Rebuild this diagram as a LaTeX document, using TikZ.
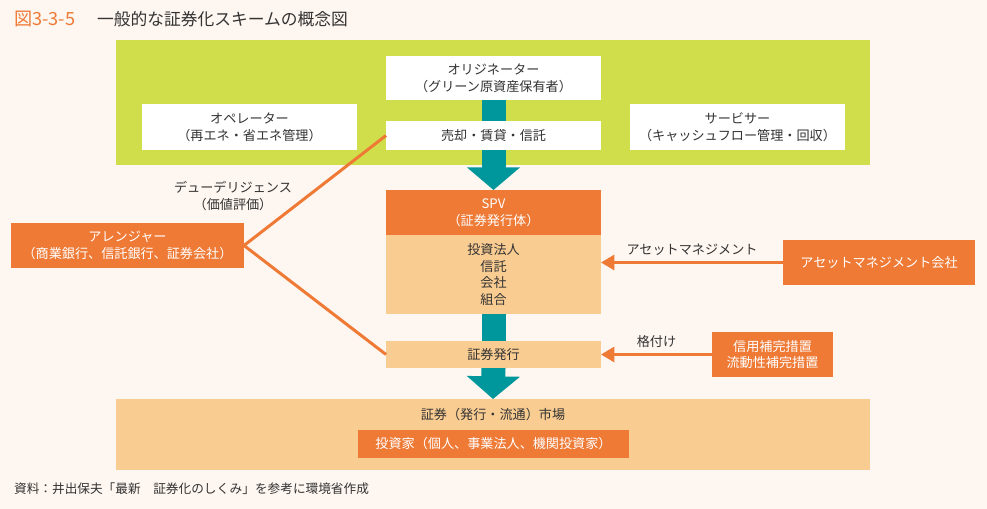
\documentclass[tikz,border=0pt]{standalone}
\usepackage{fontspec}
\setmainfont{Noto Sans CJK JP}
\usepackage{tikz}
\usetikzlibrary{arrows.meta, positioning}

\definecolor{pagebg}{HTML}{FEF6F0}
\definecolor{limegreen}{HTML}{D1DE4C}
\definecolor{deeporange}{HTML}{EE7A36}
\definecolor{paleorange}{HTML}{F9CC92}
\definecolor{tealblue}{HTML}{00979C}
\definecolor{textgray}{HTML}{333333}

\pgfdeclarelayer{back}
\pgfdeclarelayer{mid}
\pgfsetlayers{back,mid,main}

\begin{document}
\begin{tikzpicture}[
    x=0.03cm, y=-0.03cm,
    every node/.style={text=textgray, font=\fontsize{11.2}{14.3}\selectfont},
    whitebox/.style={rectangle, fill=white, inner sep=0pt, outer sep=0pt, align=center, minimum width=6.45cm},
    orangebox/.style={rectangle, fill=deeporange, text=white, inner sep=0pt, outer sep=0pt, align=center},
    palebox/.style={rectangle, fill=paleorange, inner sep=0pt, outer sep=0pt, align=center},
    flow/.style={tealblue, line width=0.72cm},
    flowarrow/.style={tealblue, line width=0.72cm, -{Triangle[width=1.56cm, length=0.68cm]}},
    feed/.style={deeporange, line width=0.09cm, -{Triangle[width=0.45cm, length=0.4cm]}},
    link/.style={deeporange, line width=0.09cm}
]
\useasboundingbox (0,0) rectangle (987,509);

% Green area and market band
\begin{pgfonlayer}{back}
\fill[pagebg] (0,0) rectangle (987,509);
\node[rectangle, fill=limegreen, minimum width=22.62cm, minimum height=3.75cm, inner sep=0pt] (green) at (493,102.5) {};
\node[palebox, minimum width=22.62cm, minimum height=2.13cm] (market) at (493,434.5) {};
\end{pgfonlayer}

% Title
\node[anchor=west, text=deeporange, font=\fontsize{15.5}{17}\selectfont] (fignum) at (10,19) {図3-3-5};
\node[anchor=west, font=\fontsize{14.3}{16}\selectfont] (title) at (93,19) {一般的な証券化スキームの概念図};

\node[whitebox, minimum height=1.32cm] (origin) at (493.5,78) {オリジネーター\\（グリーン原資産保有者）};
\node[whitebox, minimum height=0.87cm] (sale) at (493.5,135.5) {売却・賃貸・信託};
\node[whitebox, minimum height=1.38cm] (operator) at (249.5,127) {オペレーター\\（再エネ・省エネ管理）};
\node[whitebox, minimum height=1.38cm] (servicer) at (737.5,127) {サービサー\\（キャッシュフロー管理・回収）};

% SPV
\node[orangebox, minimum width=6.45cm, minimum height=1.35cm] (spv) at (493.5,212.5) {SPV\\（証券発行体）};
\node[palebox, minimum width=6.45cm, minimum height=2.37cm, font=\fontsize{11.2}{14.2}\selectfont] (spvbody) at (493.5,274.5) {投資法人\\信託\\会社\\組合};
\node[palebox, minimum width=6.45cm, minimum height=0.81cm] (issue) at (493.5,354.5) {証券発行};

% Market
\node (marketlabel) at (493,415) {証券（発行・流通）市場};
\node[orangebox, minimum width=8.13cm, minimum height=0.84cm] (investor) at (493.5,444) {投資家（個人、事業法人、機関投資家）};

% Side parties
\node[orangebox, minimum width=6.99cm, minimum height=1.35cm] (arranger) at (127.5,245.5) {アレンジャー\\（商業銀行、信託銀行、証券会社）};
\node[orangebox, minimum width=5.76cm, minimum height=1.35cm] (amc) at (879,262.5) {アセットマネジメント会社};
\node[orangebox, minimum width=3.63cm, minimum height=1.35cm] (credit) at (772.5,354.5) {信用補完措置\\流動性補完措置};

% Teal flow
\begin{pgfonlayer}{mid}
\draw[flowarrow] (origin.south) -- (spv.north);
\draw[flow] (spvbody.south) -- (issue.north);
\draw[flowarrow] (issue.south) -- (market.north);
\end{pgfonlayer}

% Arranger links
\node[align=center] (ddlabel) at (233,196) {デューデリジェンス\\（価値評価）};
\draw[link] (arranger.east) -- (sale.west);
\draw[link] (arranger.east) -- (issue.west);

% Feeds into SPV
\draw[feed] (amc.west) -- node[above, inner sep=5pt] (amlabel) {アセットマネジメント} (amc.west -| spvbody.east);
\draw[feed] (credit.west) -- node[above, inner sep=5pt] (ratinglabel) {格付け} (issue.east);

% Source
\node[anchor=west, font=\fontsize{10.8}{12}\selectfont] (source) at (10,489) {資料：井出保夫「最新　証券化のしくみ」を参考に環境省作成};

\end{tikzpicture}
\end{document}
